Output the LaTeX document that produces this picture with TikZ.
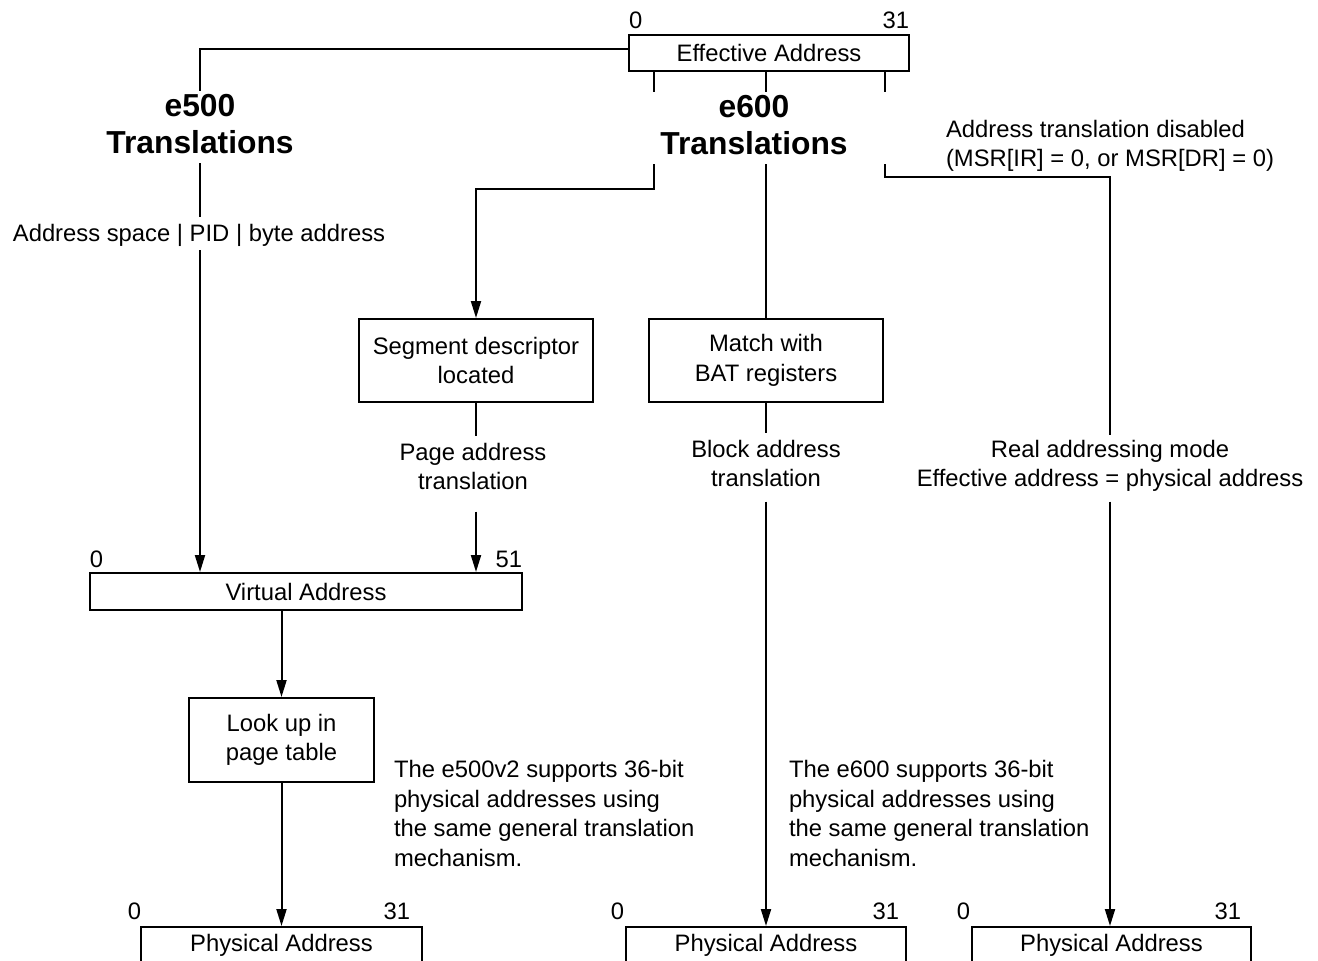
\documentclass[tikz,border=0pt]{standalone}
\usepackage{fontspec}
\setmainfont{Liberation Sans}
\usetikzlibrary{arrows.meta}
\newcommand\txtsize{\fontsize{11.9}{14.7}\selectfont}
\newcommand\ttlsize{\fontsize{15.9}{18.5}\selectfont\bfseries}

\begin{document}
\begin{tikzpicture}[x=0.5pt,y=-0.5pt,
line width=1pt,
regbox/.style={draw,font=\txtsize,inner sep=0pt,minimum height=18pt},
stepbox/.style={draw,font=\txtsize,align=center,inner sep=0pt,minimum width=117pt,minimum height=41.5pt},
heading/.style={font=\ttlsize,align=center,anchor=north,inner sep=1pt,text depth=3.5pt},
caption/.style={font=\txtsize,align=center,anchor=north},
note/.style={font=\txtsize,align=left,anchor=west,inner sep=0pt},
bit/.style={font=\txtsize,inner sep=0pt},
flow/.style={-{Triangle[length=8.5pt,width=5pt]}}]

\useasboundingbox (0,0) rectangle (1318,960);
\clip (0,0) rectangle (1318,960);

% Registers
\node[regbox,minimum width=140pt] (ea) at (769,53) {Effective Address};
\node[bit,anchor=base west] (ea-lo) at ([yshift=3pt]ea.north west) {0};
\node[bit,anchor=base east] (ea-hi) at ([yshift=3pt]ea.north east) {31};

\node[regbox,minimum width=216pt,minimum height=18.5pt] (va) at (306,591.5) {Virtual Address};
\node[bit,anchor=base west] (va-lo) at ([yshift=2.5pt]va.north west) {0};
\node[bit,anchor=base east] (va-hi) at ([yshift=2.5pt]va.north east) {51};

\node[regbox,minimum width=140.5pt] (pa1) at (281.5,945) {Physical Address};
\node[bit,anchor=base east] (pa1-lo) at ([xshift=1pt,yshift=3.5pt]pa1.north west) {0};
\node[bit,anchor=base east] (pa1-hi) at ([xshift=-6pt,yshift=3.5pt]pa1.north east) {31};

\node[regbox,minimum width=140pt] (pa2) at (766,945) {Physical Address};
\node[bit,anchor=base east] (pa2-lo) at ([xshift=0pt,yshift=3.5pt]pa2.north west) {0};
\node[bit,anchor=base east] (pa2-hi) at ([xshift=-3.5pt,yshift=3.5pt]pa2.north east) {31};

\node[regbox,minimum width=139.5pt] (pa3) at (1111.5,945) {Physical Address};
\node[bit,anchor=base east] (pa3-lo) at ([xshift=0pt,yshift=3.5pt]pa3.north west) {0};
\node[bit,anchor=base east] (pa3-hi) at ([xshift=-5pt,yshift=3.5pt]pa3.north east) {31};

% Headings
\node[heading] (e5) at (200,91) {e500\\Translations};
\node[heading] (e6) at (754,92) {e600\\Translations};

% Steps
\node[stepbox] (seg) at (476,360.5) {Segment descriptor\\located};
\node[stepbox] (bat) at (766,360.5) {Match with\\BAT registers};
\node[stepbox,minimum width=92.5pt,minimum height=42pt] (look) at (281.5,740) {Look up in\\page table};

% Captions
\node[caption,inner sep=3pt,text depth=1pt] (asp) at (199,217) {Address space | PID | byte address};
\node[caption,inner sep=3pt,text depth=7.5pt] (pat) at (473,436) {Page address\\translation};
\node[caption,inner sep=3pt,text depth=4pt] (blk) at (766,433) {Block address\\translation};
\node[caption,inner sep=2pt,text depth=5pt] (real) at (1110,435) {Real addressing mode\\Effective address = physical address};
\node[note] (dis) at (945,146) {Address translation disabled\\(MSR[IR] = 0, or MSR[DR] = 0)};

% Notes
\node[note] (n5) at (393,813.5) {The e500v2 supports 36-bit\\physical addresses using\\the same general translation\\mechanism.};
\node[note] (n6) at (788,813.5) {The e600 supports 36-bit\\physical addresses using\\the same general translation\\mechanism.};

% e500 path
\draw ([yshift=2pt]ea.west) -| (e5.north);
\draw (e5.south) -- (e5.south |- asp.north);
\draw[flow] (asp.south -| e5.south) -- (va.north -| e5.south);
\draw[flow] (va.south -| look.north) -- (look.north);
\draw[flow] (look.south) -- (pa1.north);

% e600 paths
\coordinate (tl) at ([xshift=13pt]ea.south west);
\coordinate (tr) at ([xshift=-12.5pt]ea.south east);
\draw (tl) -- (tl |- e6.north);
\draw[flow] (tl |- e6.south) -- ++(0,25) -| (seg.north);
\draw (seg.south) -- (seg.south |- pat.north);
\draw[flow] (pat.south -| seg.south) -- (va.north -| seg.south);

\draw (ea.south -| bat.north) -- (bat.north |- e6.north);
\draw (bat.north |- e6.south) -- (bat.north);
\draw (bat.south) -- (blk.north);
\draw[flow] (blk.south) -- (pa2.north);

% Translation disabled
\draw (tr) -- (tr |- e6.north);
\draw (tr |- e6.south) -- ++(0,13) -| (real.north);
\draw[flow] (real.south) -- (real.south |- pa3.north);

\end{tikzpicture}
\end{document}
